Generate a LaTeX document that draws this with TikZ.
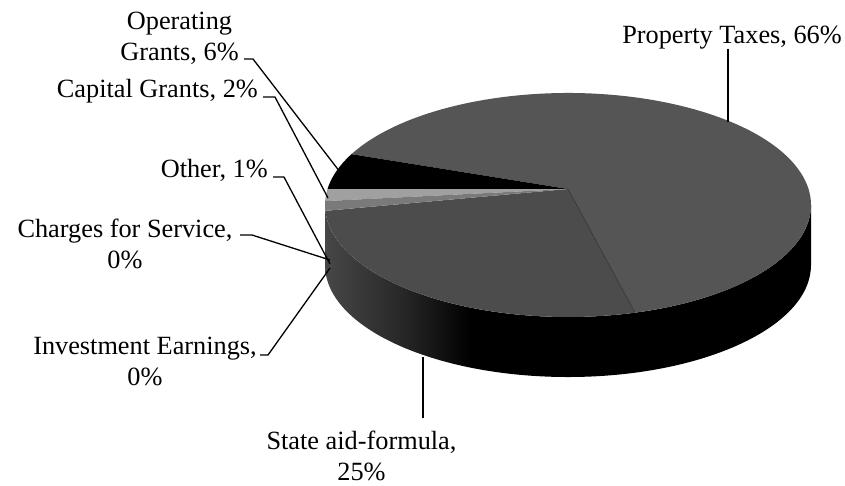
\documentclass[tikz,border=0pt]{standalone}
\usepackage{fontspec}
\setmainfont{Liberation Serif}
\definecolor{sidegray}{HTML}{474747}
\definecolor{proptop}{HTML}{555555}
\definecolor{statetop}{HTML}{4C4C4C}
\definecolor{capgray}{HTML}{A0A0A0}
\definecolor{othgray}{HTML}{7A7A7A}
\pgfdeclarehorizontalshading{sideshade}{100bp}{color(0bp)=(sidegray); color(25bp)=(sidegray); color(33bp)=(sidegray!55!black); color(40bp)=(black); color(100bp)=(black)}
\begin{document}
\begin{tikzpicture}[x=1pt,y=-1pt,
  lbl/.style={font=\fontsize{26.3}{31}\selectfont, inner sep=0pt, align=center},
  leader/.style={line width=1.3pt, line join=round},
  rim/.style={x radius=243, y radius=112}]
\useasboundingbox (0,0) rectangle (845,485);
\coordinate (C) at (568,205);
\coordinate (A) at (568,189);
% side of the pie
\shade[shading=sideshade] (C) ++(180:243 and 112) arc[start angle=180, end angle=0, rim] -- ++(0,60) arc[start angle=0, end angle=180, rim] -- cycle;
% top slices
\fill[proptop] (A) -- ([shift={(C)}]74:243 and 112) arc[start angle=74, end angle=-153, rim] -- cycle;
\fill[statetop] (A) -- ([shift={(C)}]177:243 and 112) arc[start angle=177, end angle=74, rim] -- cycle;
\fill[black] (A) -- ([shift={(C)}]207:243 and 112) arc[start angle=207, end angle=188, rim] -- cycle;
\fill[capgray] (A) -- ([shift={(C)}]188:243 and 112) arc[start angle=188, end angle=182, rim] -- cycle;
\fill[othgray] (A) -- ([shift={(C)}]182:243 and 112) arc[start angle=182, end angle=177, rim] -- cycle;
\draw[line width=0.6pt, color=black!80] (A) -- ([shift={(C)}]74:243 and 112);
% labels (base anchor = baseline of the last line)
\node[lbl, anchor=base] (prop) at (732,43) {Property Taxes, 66\%};
\node[lbl, anchor=base] (op) at (179.5,60) {Operating\\Grants, 6\%};
\node[lbl, anchor=base east] (cap) at (258,97) {Capital Grants, 2\%};
\node[lbl, anchor=base east] (oth) at (268,177) {Other, 1\%};
\node[lbl, anchor=base] (ch) at (125,268) {Charges for Service,\\0\%};
\node[lbl, anchor=base] (inv) at (145,385) {Investment Earnings,\\0\%};
\node[lbl, anchor=base] (st) at (361.5,480) {State aid-formula,\\25\%};
% leader end points
\coordinate (propE) at (728,122);
\coordinate (opT) at (244,59);
\coordinate (opE) at (340,172);
\coordinate (capE) at (328,198);
\coordinate (othE) at (330,264);
\coordinate (chT) at (240,235);
\coordinate (chE) at (330,260);
\coordinate (invT) at (260,355);
\coordinate (invE) at (330,268);
\coordinate (stE) at (423,357);
% leaders
\draw[leader] (prop.south -| propE) -- (propE);
\draw[leader] (opT) -- ++(9,0) -- (opE);
\draw[leader] ([xshift=5pt]cap.base east) -- ++(12,0) -- (capE);
\draw[leader] ([xshift=5pt]oth.base east) -- ++(11,0) -- (othE);
\draw[leader] (chT) -- ++(12,0) -- (chE);
\draw[leader] (invT) -- ++(8,0) -- (invE);
\draw[leader] (st.north -| stE) ++(0,-12) -- (stE);
\end{tikzpicture}
\end{document}
